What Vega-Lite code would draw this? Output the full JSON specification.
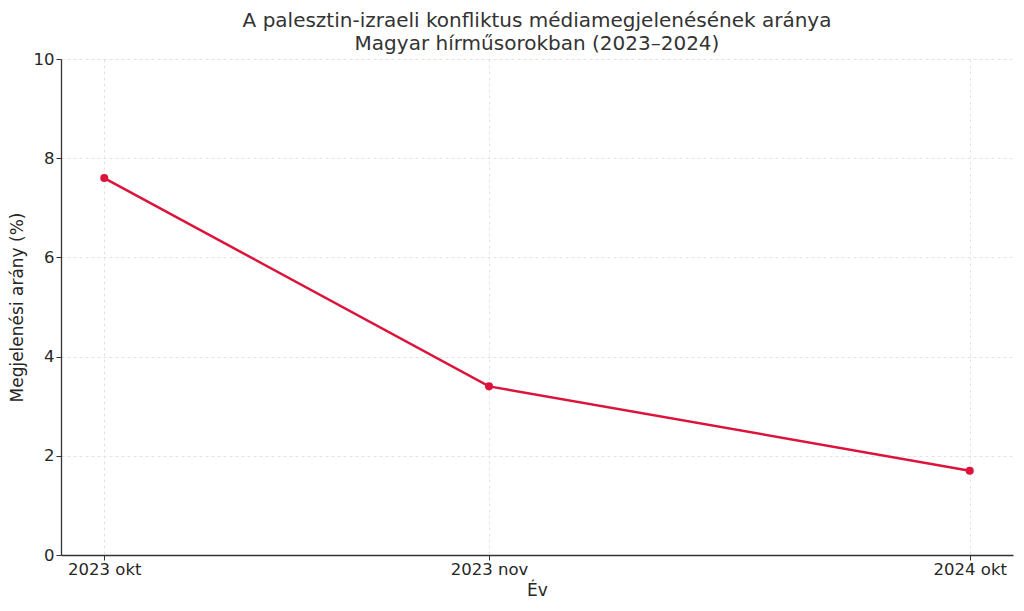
{
  "$schema": "https://vega.github.io/schema/vega-lite/v6.json",
  "description": "A palesztin-izraeli konfliktus médiamegjelenésének aránya",
  "autosize": "none",
  "width": 952,
  "height": 496,
  "padding": {"left": 61, "top": 59, "right": 11, "bottom": 56},
  "background": "white",
  "title": {
    "text": ["A palesztin-izraeli konfliktus médiamegjelenésének aránya", "Magyar hírműsorokban (2023–2024)"],
    "font": "DejaVu Sans",
    "fontSize": 20,
    "fontWeight": "normal",
    "color": "#333333",
    "anchor": "middle",
    "lineHeight": 23.5,
    "offset": -3
  },
  "data": {
    "values": [
      {"Idoszak": "2023 okt", "t": 0, "Arany": 7.6},
      {"Idoszak": "2023 nov", "t": 0.4446, "Arany": 3.4},
      {"Idoszak": "2024 okt", "t": 1, "Arany": 1.7}
    ]
  },
  "mark": {
    "type": "line",
    "color": "#DC143C",
    "strokeWidth": 2.5,
    "point": {"filled": true, "color": "#DC143C", "size": 65}
  },
  "encoding": {
    "x": {
      "field": "t",
      "type": "quantitative",
      "scale": {"domain": [-0.05, 1.05], "nice": false, "zero": false},
      "axis": {
        "title": "Év",
        "values": [0, 0.4446, 1],
        "labelExpr": "datum.value < 0.2 ? '2023 okt' : datum.value < 0.7 ? '2023 nov' : '2024 okt'",
        "labelPadding": 1,
        "titlePadding": 5
      }
    },
    "y": {
      "field": "Arany",
      "type": "quantitative",
      "scale": {"domain": [0, 10], "nice": false},
      "axis": {
        "title": "Megjelenési arány (%)",
        "values": [0, 2, 4, 6, 8, 10],
        "labelPadding": 2,
        "titlePadding": 7
      }
    },
    "tooltip": [
      {"field": "Idoszak", "type": "nominal", "title": "Év"},
      {"field": "Arany", "type": "quantitative", "title": "Arány (%)"}
    ]
  },
  "config": {
    "view": {"stroke": null},
    "axis": {
      "labelFont": "DejaVu Sans",
      "labelFontSize": 16.5,
      "labelColor": "#262626",
      "titleFont": "DejaVu Sans",
      "titleFontSize": 17,
      "titleFontWeight": "normal",
      "titleColor": "#262626",
      "domainColor": "#333333",
      "domainWidth": 1.3,
      "tickColor": "#333333",
      "tickSize": 5,
      "tickWidth": 1,
      "grid": true,
      "gridColor": "#dcdcdc",
      "gridDash": [3, 3],
      "gridWidth": 0.8
    }
  }
}
